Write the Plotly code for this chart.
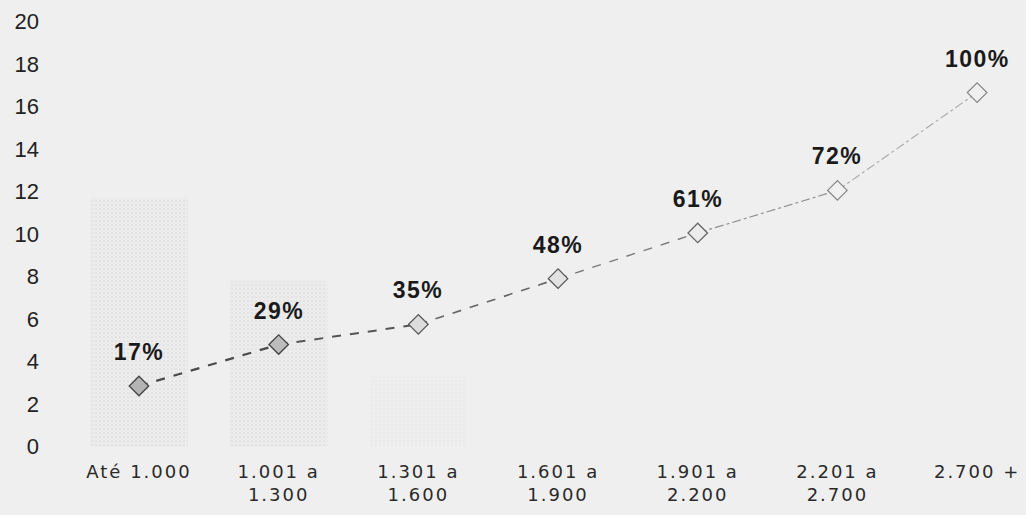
import plotly.graph_objects as go

categories = ["Até 1.000", "1.001 a<br>1.300", "1.301 a<br>1.600", "1.601 a<br>1.900",
              "1.901 a<br>2.200", "2.201 a<br>2.700", "2.700 +"]
line_values = [2.85, 4.8, 5.75, 7.9, 10.05, 12.05, 16.65]
pct_labels = ["17%", "29%", "35%", "48%", "61%", "72%", "100%"]
bar_values = [11.7, 7.8, 3.3, 0, 0, 0, 0]
y_ticks = [0, 2, 4, 6, 8, 10, 12, 14, 16, 18, 20]

xs = list(range(len(categories)))

bar_opacity = [1.0, 1.0, 0.45, 0, 0, 0, 0]
seg_colors = ["#4a4a4a", "#555555", "#666666", "#7a7a7a", "#909090", "#a8a8a8"]
seg_widths = [2.2, 2.0, 1.6, 1.4, 1.2, 1.1]
seg_dash = ["dash", "dash", "dash", "dash", "dashdot", "dashdot"]
marker_fill = ["#b4b4b4", "#bcbcbc", "#dcdcdc", "#e2e2e2", "#ececec", "#f0f0f0", "#f0f0f0"]
marker_edge = ["#444444", "#444444", "#555555", "#555555", "#666666", "#888888", "#888888"]

BG = "#efefef"

fig = go.Figure()

fig.add_trace(go.Bar(
    x=xs, y=bar_values, width=0.7,
    marker=dict(color=BG, opacity=bar_opacity,
                line=dict(width=0),
                pattern=dict(shape=".", size=4, solidity=0.15,
                             fgcolor="#c8c8c8", bgcolor="#ececec")),
    hoverinfo="skip", showlegend=False,
))

for i in range(len(xs) - 1):
    fig.add_trace(go.Scatter(
        x=xs[i:i + 2], y=line_values[i:i + 2], mode="lines",
        line=dict(color=seg_colors[i], width=seg_widths[i], dash=seg_dash[i]),
        showlegend=False, hoverinfo="skip",
    ))

fig.add_trace(go.Scatter(
    x=xs, y=line_values, mode="markers",
    marker=dict(symbol="diamond", size=15, color=marker_fill,
                line=dict(color=marker_edge, width=1.3)),
    showlegend=False,
))

for x, v, t in zip(xs, line_values, pct_labels):
    fig.add_annotation(x=x, y=v, text=f"<b>{t}</b>", showarrow=False,
                       yshift=34, font=dict(family="Liberation Sans, Arial", size=23, color="#1a1a1a"))

fig.update_layout(
    width=1026, height=515,
    margin=dict(l=50, r=0, t=15, b=62),
    paper_bgcolor=BG, plot_bgcolor=BG,
    bargap=0.3,
    font=dict(family="Liberation Sans, Arial", size=18, color="#2a2a2a"),
)
fig.update_xaxes(
    range=[-0.637, 6.35], tickmode="array", tickvals=xs, ticktext=categories,
    showgrid=False, zeroline=False, showline=False, ticks="",
    tickfont=dict(family="DejaVu Sans", size=18, color="#2a2a2a"),
    ticklabelstandoff=6,
)
fig.update_yaxes(
    range=[-0.3, 20.3], tickmode="array", tickvals=y_ticks,
    ticktext=[str(v) for v in y_ticks],
    showgrid=False, zeroline=False, showline=False, ticks="",
    tickfont=dict(size=22, color="#222222"), ticklabelstandoff=10,
)

post = (
    "document.body.style.margin='0';"
    "document.body.style.background='" + BG + "';"
    "document.querySelectorAll('.xtick text').forEach(function(t){t.style.letterSpacing='2px';});"
    "document.querySelectorAll('.annotation-text').forEach(function(t){t.style.letterSpacing='1.5px';});"
)

fig.write_html("out.html", post_script=post, config={"displayModeBar": False})
